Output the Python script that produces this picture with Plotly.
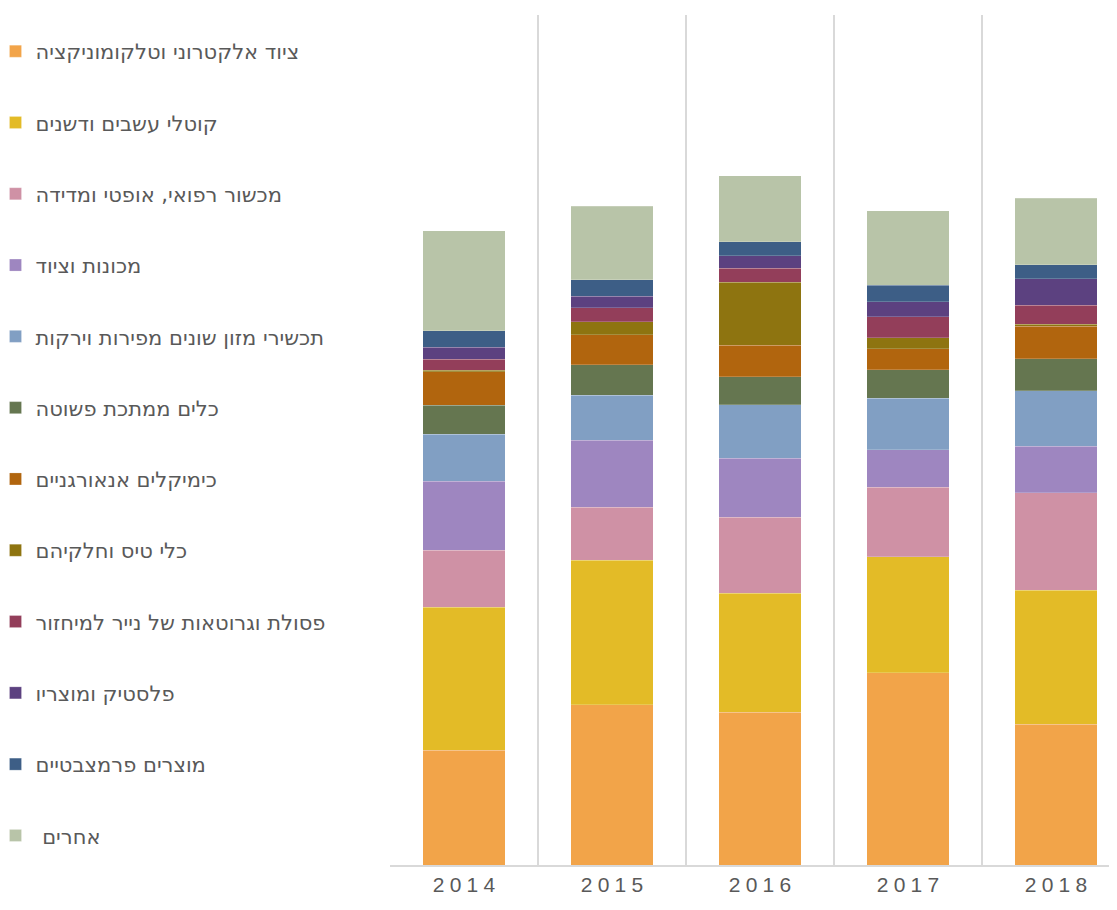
import plotly.graph_objects as go

years = ["2014", "2015", "2016", "2017", "2018"]

series_names = [
    "ציוד אלקטרוני וטלקומוניקציה",
    "קוטלי עשבים ודשנים",
    "מכשור רפואי, אופטי ומדידה",
    "מכונות וציוד",
    "תכשירי מזון שונים מפירות וירקות",
    "כלים ממתכת פשוטה",
    "כימיקלים אנאורגניים",
    "כלי טיס וחלקיהם",
    "פסולת וגרוטאות של נייר למיחזור",
    "פלסטיק ומוצריו",
    "מוצרים פרמצבטיים",
    "\u00a0אחרים",
]

electronics = [115.0, 160.2, 152.8, 192.3, 140.8]
herbicides = [143.0, 144.6, 119.2, 116.0, 133.9]
medical = [57.0, 52.9, 75.9, 69.5, 97.6]
machinery = [68.6, 66.9, 58.9, 37.3, 46.5]
food = [47.3, 45.1, 53.4, 51.5, 55.6]
metal = [29.0, 30.8, 28.1, 28.6, 31.8]
chemicals = [33.4, 30.0, 31.7, 21.1, 32.7]
aircraft = [1.3, 13.0, 63.0, 11.1, 1.8]
paper = [11.1, 13.9, 13.9, 20.7, 19.3]
plastic = [12.1, 11.2, 12.4, 15.2, 26.3]
pharma = [16.5, 16.5, 14.2, 16.5, 14.2]
others = [99.9, 73.8, 65.9, 74.6, 66.3]

series_values = [electronics, herbicides, medical, machinery, food, metal,
                 chemicals, aircraft, paper, plastic, pharma, others]

colors = ["#F2A449", "#E3BB27", "#CF91A5", "#9E86C0", "#819FC3", "#657650",
          "#B1650E", "#8E7410", "#933E5A", "#5C4180", "#3D5E86", "#B8C4A8"]

xpos = list(range(len(years)))
tick_text = ["\u2005".join(list(y)) for y in years]

fig = go.Figure()
for i, (name, vals, col) in enumerate(zip(series_names, series_values, colors)):
    fig.add_trace(go.Bar(
        x=xpos, y=vals, name=name, width=0.555,
        marker=dict(color=col, line=dict(color="rgba(255,255,255,0.4)", width=0.5)),
        legendgroup=f"g{i}",
    ))

FIG_W, FIG_H = 1101, 894
L, T, B = 382, 7, 37
plot_w = FIG_W - L

fig.update_layout(
    barmode="stack",
    width=FIG_W, height=FIG_H,
    margin=dict(l=L, r=0, t=T, b=B, pad=0, autoexpand=False),
    paper_bgcolor="white", plot_bgcolor="white",
    font=dict(family="Liberation Sans, DejaVu Sans, sans-serif", color="#595959"),
    showlegend=True,
    legend=dict(
        traceorder="grouped", tracegroupgap=41,
        xref="paper", yref="container",
        x=(-12.5 - L) / plot_w, y=1 - 23 / FIG_H, xanchor="left", yanchor="top",
        font=dict(family="DejaVu Sans, Liberation Sans, sans-serif", size=21, color="#595959"),
        bgcolor="rgba(0,0,0,0)",
        maxheight=1.0,
        itemclick=False,
    ),
    xaxis=dict(
        range=[-0.5, -0.5 + plot_w / 148.0],
        tickmode="array", tickvals=xpos, ticktext=tick_text,
        showgrid=False,
        minor=dict(tick0=-0.5, dtick=1, showgrid=True, gridcolor="#D9D9D9", gridwidth=2, ticks=""),
        showline=True, linecolor="#D9D9D9", linewidth=2,
        ticks="", tickfont=dict(size=21, color="#595959"),
        zeroline=False, fixedrange=True,
    ),
    yaxis=dict(
        range=[0, 850], visible=False, showgrid=False, zeroline=False, fixedrange=True,
    ),
)

fig.write_html("out.html")
